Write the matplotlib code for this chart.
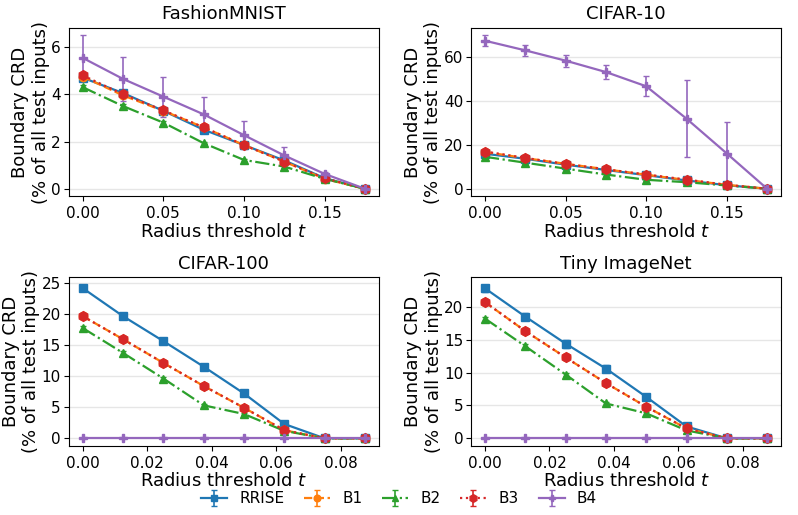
import numpy as np
import matplotlib
matplotlib.use("Agg")
import matplotlib.pyplot as plt

# Rayons testés
t_fmnist = [0.0, 0.025, 0.05, 0.075, 0.10, 0.125, 0.15, 0.175]
t_cifar10 = [0.0, 0.025, 0.05, 0.075, 0.10, 0.125, 0.15, 0.175]
t_cifar100 = [0.0, 0.0125, 0.025, 0.0375, 0.05, 0.0625, 0.075, 0.0875]
t_tiny = [0.0, 0.0125, 0.025, 0.0375, 0.05, 0.0625, 0.075, 0.0875]

methodes = ["RRISE", "B1", "B2", "B3", "B4"]

# FashionMNIST
fm_rrise = [4.70, 4.05, 3.30, 2.50, 1.85, 1.20, 0.45, 0.0]
fm_b1 = [4.75, 3.95, 3.30, 2.60, 1.85, 1.15, 0.42, 0.0]
fm_b2 = [4.30, 3.50, 2.80, 1.93, 1.22, 0.94, 0.42, 0.0]
fm_b3 = [4.80, 4.00, 3.32, 2.60, 1.85, 1.15, 0.45, 0.0]
fm_b4 = [5.54, 4.65, 3.90, 3.15, 2.27, 1.41, 0.63, 0.0]
fm_err_rrise = [0.12, 0.10, 0.08, 0.08, 0.07, 0.06, 0.04, 0.0]
fm_err_b1 = [0.10, 0.10, 0.08, 0.08, 0.07, 0.06, 0.04, 0.0]
fm_err_b2 = [0.08, 0.07, 0.06, 0.06, 0.05, 0.04, 0.03, 0.0]
fm_err_b3 = [0.10, 0.10, 0.08, 0.08, 0.07, 0.06, 0.04, 0.0]
fm_err_b4 = [0.95, 0.92, 0.85, 0.75, 0.58, 0.34, 0.08, 0.0]

# CIFAR-10
c10_rrise = [16.0, 13.7, 11.0, 8.6, 6.2, 3.8, 1.6, 0.0]
c10_b1 = [16.8, 14.0, 11.4, 8.9, 6.4, 4.0, 1.8, 0.0]
c10_b2 = [14.6, 11.9, 9.2, 6.5, 4.1, 3.0, 1.5, 0.0]
c10_b3 = [17.0, 14.1, 11.3, 8.9, 6.5, 4.2, 1.8, 0.0]
c10_b4 = [67.6, 63.2, 58.5, 53.3, 46.8, 32.0, 16.1, 0.0]
c10_err_rrise = [0.8, 0.7, 0.6, 0.5, 0.5, 0.4, 0.3, 0.0]
c10_err_b1 = [0.8, 0.7, 0.6, 0.5, 0.5, 0.4, 0.3, 0.0]
c10_err_b2 = [0.7, 0.6, 0.5, 0.5, 0.4, 0.3, 0.3, 0.0]
c10_err_b3 = [0.8, 0.7, 0.6, 0.5, 0.5, 0.4, 0.3, 0.0]
c10_err_b4 = [2.4, 2.5, 2.7, 3.4, 4.6, 17.7, 14.6, 0.0]

# CIFAR-100
c100_rrise = [24.1, 19.6, 15.6, 11.5, 7.2, 2.3, 0.0, 0.0]
c100_b1 = [19.6, 15.9, 12.1, 8.4, 4.9, 1.3, 0.0, 0.0]
c100_b2 = [17.7, 13.7, 9.6, 5.3, 3.9, 1.2, 0.0, 0.0]
c100_b3 = [19.6, 15.9, 12.1, 8.4, 4.9, 1.3, 0.0, 0.0]
c100_b4 = [0.0, 0.0, 0.0, 0.0, 0.0, 0.0, 0.0, 0.0]
c100_err_rrise = [0.5, 0.5, 0.5, 0.4, 0.3, 0.2, 0.0, 0.0]
c100_err_b1 = [0.3, 0.3, 0.3, 0.3, 0.2, 0.2, 0.0, 0.0]
c100_err_b2 = [0.3, 0.3, 0.3, 0.2, 0.2, 0.1, 0.0, 0.0]
c100_err_b3 = [0.3, 0.3, 0.3, 0.3, 0.2, 0.2, 0.0, 0.0]
c100_err_b4 = [0.0, 0.0, 0.0, 0.0, 0.0, 0.0, 0.0, 0.0]

# Tiny ImageNet
tiny_rrise = [22.8, 18.5, 14.4, 10.6, 6.3, 1.8, 0.0, 0.0]
tiny_b1 = [20.7, 16.3, 12.3, 8.4, 4.8, 1.5, 0.0, 0.0]
tiny_b2 = [18.2, 14.0, 9.7, 5.3, 3.8, 1.2, 0.0, 0.0]
tiny_b3 = [20.7, 16.3, 12.3, 8.4, 4.8, 1.5, 0.0, 0.0]
tiny_b4 = [0.0, 0.0, 0.0, 0.0, 0.0, 0.0, 0.0, 0.0]
tiny_err_rrise = [0.5, 0.5, 0.6, 0.5, 0.3, 0.2, 0.0, 0.0]
tiny_err_b1 = [0.3, 0.3, 0.3, 0.3, 0.2, 0.2, 0.0, 0.0]
tiny_err_b2 = [0.3, 0.3, 0.3, 0.2, 0.2, 0.1, 0.0, 0.0]
tiny_err_b3 = [0.3, 0.3, 0.3, 0.3, 0.2, 0.2, 0.0, 0.0]
tiny_err_b4 = [0.0, 0.0, 0.0, 0.0, 0.0, 0.0, 0.0, 0.0]

panneaux = [
    ("FashionMNIST", t_fmnist, [fm_rrise, fm_b1, fm_b2, fm_b3, fm_b4],
     [fm_err_rrise, fm_err_b1, fm_err_b2, fm_err_b3, fm_err_b4],
     [0, 2, 4, 6], [0.0, 0.05, 0.10, 0.15]),
    ("CIFAR-10", t_cifar10, [c10_rrise, c10_b1, c10_b2, c10_b3, c10_b4],
     [c10_err_rrise, c10_err_b1, c10_err_b2, c10_err_b3, c10_err_b4],
     [0, 20, 40, 60], [0.0, 0.05, 0.10, 0.15]),
    ("CIFAR-100", t_cifar100, [c100_rrise, c100_b1, c100_b2, c100_b3, c100_b4],
     [c100_err_rrise, c100_err_b1, c100_err_b2, c100_err_b3, c100_err_b4],
     [0, 5, 10, 15, 20, 25], [0.0, 0.02, 0.04, 0.06, 0.08]),
    ("Tiny ImageNet", t_tiny, [tiny_rrise, tiny_b1, tiny_b2, tiny_b3, tiny_b4],
     [tiny_err_rrise, tiny_err_b1, tiny_err_b2, tiny_err_b3, tiny_err_b4],
     [0, 5, 10, 15, 20], [0.0, 0.02, 0.04, 0.06, 0.08]),
]

styles = {
    "RRISE": dict(color="#1f77b4", linestyle="-", marker="s", markersize=6),
    "B1": dict(color="#ff7f0e", linestyle="--", marker="o", markersize=6),
    "B2": dict(color="#2ca02c", linestyle="-.", marker="^", markersize=6),
    "B3": dict(color="#d62728", linestyle=":", marker="h", markersize=7),
    "B4": dict(color="#9467bd", linestyle="-", marker="P", markersize=6),
}

fig, axes = plt.subplots(2, 2, figsize=(7.98, 5.15), dpi=100)

for ax, (titre, t, series, erreurs, yticks, xticks) in zip(axes.flat, panneaux):
    for nom, y, e in zip(methodes, series, erreurs):
        ax.errorbar(t, y, yerr=e, label=nom, linewidth=1.6, capsize=2.5,
                    elinewidth=1.2, **styles[nom])
    ax.set_title(titre, fontsize=13)
    ax.set_yticks(yticks)
    ax.set_xticks(xticks)
    ax.set_xticklabels([f"{v:.2f}" for v in xticks])
    ax.tick_params(labelsize=11)
    ax.tick_params(axis="y", pad=2)
    ax.grid(axis="y", color="#e6e6e6", linewidth=1)
    ax.set_axisbelow(True)
    ax.set_xlabel("Radius threshold $t$", fontsize=13, labelpad=1)
    ax.set_ylabel("Boundary CRD\n(% of all test inputs)", fontsize=13,
                  labelpad=1)

handles, labels = axes[0, 0].get_legend_handles_labels()
fig.legend(handles, labels, loc="lower center", ncol=5, frameon=False,
           fontsize=11, bbox_to_anchor=(0.5, -0.01), handlelength=1.7,
           columnspacing=1.3, markerscale=0.8)

plt.subplots_adjust(left=0.086, right=0.979, top=0.946, bottom=0.134,
                    wspace=0.296, hspace=0.48)
plt.savefig("out.png", dpi=100)
